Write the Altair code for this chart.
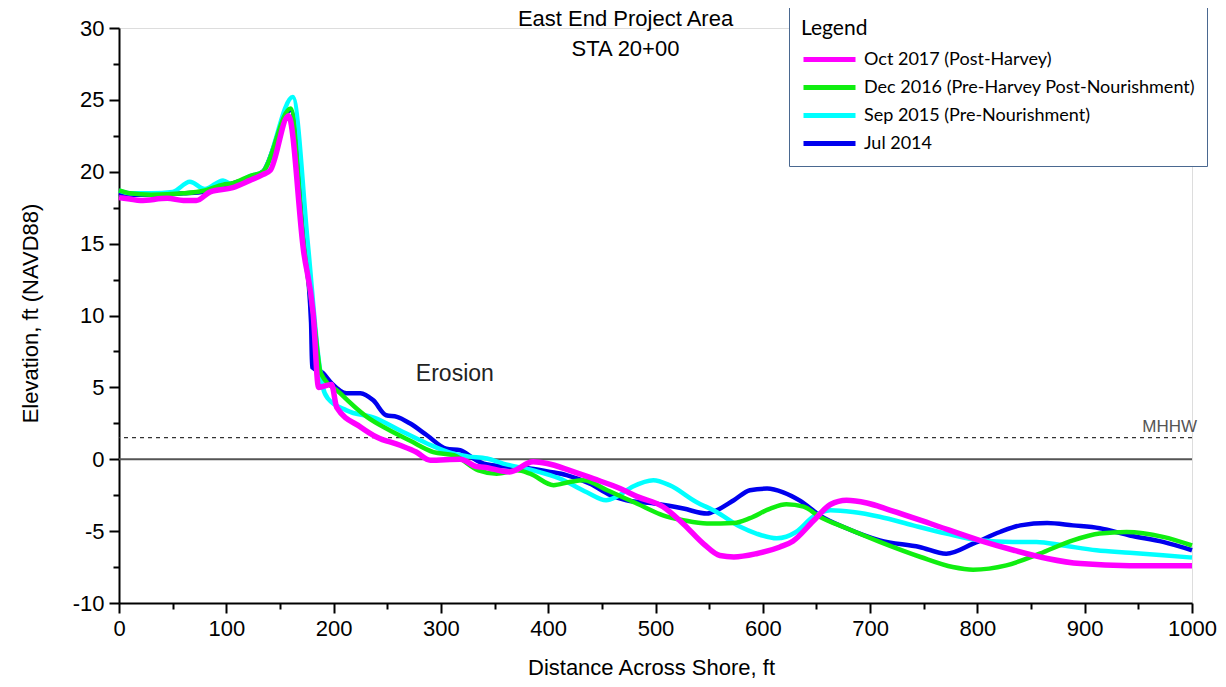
import altair as alt
import pandas as pd

# ---------------- data ----------------
SERIES = [
    "Oct 2017 (Post-Harvey)",
    "Dec 2016 (Pre-Harvey Post-Nourishment)",
    "Sep 2015 (Pre-Nourishment)",
    "Jul 2014",
]
COLORS = ["#ff00ff", "#10ee10", "#00ffff", "#0000ee"]

dist_oct17 = [0, 10, 20, 45, 60, 72, 85, 106, 122, 134, 141, 158, 172, 181, 186, 198, 203, 225, 240, 262,
              277, 290, 318, 333, 340, 364, 386, 399, 420, 442, 467, 483, 507, 526, 545, 560, 573, 594, 616,
              628, 647, 663, 678, 697, 719, 756, 802, 834, 865, 896, 942, 1000]
elev_oct17 = [18.2, 18.1, 18.0, 18.15, 18.0, 18.0, 18.6, 18.9, 19.4, 19.8, 20.1, 23.9, 14.5, 10.1, 5.0, 5.2,
              3.6, 2.25, 1.55, 0.97, 0.5, -0.07, 0.0, -0.5, -0.55, -0.88, -0.18, -0.3, -0.77, -1.35, -2.04,
              -2.6, -3.3, -4.5, -5.9, -6.7, -6.8, -6.57, -6.1, -5.7, -4.3, -3.15, -2.85, -3.04, -3.55, -4.47,
              -5.64, -6.33, -6.9, -7.26, -7.4, -7.4]

dist_dec16 = [0, 10, 30, 60, 80, 97, 106, 122, 134, 160, 172, 182, 188, 206, 231, 250, 271, 293, 312, 335,
              352, 371, 383, 405, 420, 433, 455, 483, 507, 526, 548, 573, 588, 607, 622, 638, 653, 678, 709,
              747, 777, 796, 827, 858, 889, 914, 939, 973, 1000]
elev_dec16 = [18.7, 18.5, 18.4, 18.5, 18.7, 19.1, 19.2, 19.7, 20.0, 24.4, 15.0, 9.5, 6.0, 4.6, 2.95, 2.1,
              1.3, 0.5, 0.28, -0.77, -1.0, -0.77, -1.0, -1.8, -1.58, -1.46, -2.16, -3.1, -3.9, -4.24, -4.47,
              -4.43, -4.1, -3.43, -3.13, -3.3, -4.0, -4.8, -5.75, -6.8, -7.5, -7.68, -7.38, -6.57, -5.64,
              -5.17, -5.06, -5.4, -6.0]

dist_sep15 = [0, 10, 30, 50, 66, 80, 97, 106, 122, 134, 162, 176, 186, 190, 195, 212, 240, 262, 287, 311,
              325, 343, 358, 386, 411, 436, 454, 464, 479, 498, 513, 538, 557, 579, 594, 613, 631, 647, 663,
              684, 709, 740, 771, 802, 833, 855, 880, 911, 942, 973, 1000]
elev_sep15 = [18.7, 18.5, 18.5, 18.6, 19.3, 18.8, 19.4, 19.1, 19.7, 20.0, 25.2, 15.0, 7.0, 5.0, 4.2, 3.4,
              2.83, 2.0, 1.1, 0.4, 0.2, 0.05, -0.3, -0.77, -1.35, -2.3, -2.85, -2.6, -1.9, -1.46, -1.8,
              -2.97, -3.67, -4.7, -5.17, -5.5, -5.06, -4.0, -3.55, -3.67, -4.0, -4.6, -5.17, -5.64, -5.75,
              -5.75, -6.0, -6.33, -6.5, -6.68, -6.84]

dist_jul14 = [0, 10, 30, 60, 80, 97, 122, 134, 160, 172, 179, 180, 190, 198, 212, 225, 237, 249, 259, 271,
              287, 305, 318, 333, 340, 364, 383, 402, 417, 439, 458, 473, 501, 526, 548, 557, 573, 588, 604,
              619, 635, 653, 678, 709, 746, 771, 796, 821, 840, 865, 889, 914, 942, 973, 1000]
elev_jul14 = [18.5, 18.4, 18.4, 18.5, 18.6, 19.0, 19.6, 20.0, 24.3, 15.5, 9.5, 6.4, 6.0, 5.3, 4.6, 4.6,
              4.1, 3.06, 2.95, 2.5, 1.67, 0.74, 0.63, -0.07, -0.3, -0.53, -0.65, -0.88, -1.1, -1.7, -2.5,
              -2.85, -3.1, -3.43, -3.78, -3.55, -2.85, -2.16, -2.04, -2.3, -2.9, -3.9, -4.8, -5.64, -6.1,
              -6.57, -5.87, -5.06, -4.6, -4.43, -4.6, -4.8, -5.3, -5.75, -6.33]

x_major = list(range(0, 1001, 100))
x_minor = list(range(50, 1000, 100))
y_major = list(range(-10, 31, 5))
y_minor = [v + 2.5 for v in range(-10, 30, 5)]

mhhw_level = [1.5]
zero_level = [0]
annot_x = [313]
annot_y = [5.9]
annot_text = ["Erosion"]

# ---------------- tables ----------------
def frame(name, xs, ys):
    return pd.DataFrame({"distance": xs, "elevation": ys, "survey": name})

df_oct17 = frame(SERIES[0], dist_oct17, elev_oct17)
df_dec16 = frame(SERIES[1], dist_dec16, elev_dec16)
df_sep15 = frame(SERIES[2], dist_sep15, elev_sep15)
df_jul14 = frame(SERIES[3], dist_jul14, elev_jul14)

FONT = "Liberation Sans"
LFONT = "Lato"

x_scale = alt.Scale(domain=[0, 1000], nice=False, zero=False)
y_scale = alt.Scale(domain=[-10, 30], nice=False, zero=False)
color_scale = alt.Scale(domain=SERIES, range=COLORS)

legend = alt.Legend(
    orient="none", legendX=670, legendY=-22,
    title="Legend", titleFont=LFONT, titleFontSize=21, titleFontWeight="normal",
    titleColor="black", titlePadding=8,
    labelFont=LFONT, labelFontSize=18, labelColor="black", labelLimit=600,
    symbolType="M-1,0H4.2", symbolSize=400, symbolStrokeWidth=5,
    labelOffset=38, rowPadding=5, padding=12,
    strokeColor="#4a6890", fillColor="white",
)
color_enc = alt.Color("survey:N", scale=color_scale, legend=legend)

LABEL_EXPR = "'' + datum.value"

major_x_axis = alt.Axis(
    orient="bottom", values=x_major, tickSize=10, tickWidth=2, tickColor="black",
    domainColor="black", domainWidth=2, grid=False, labelFlush=False, labelOverlap=False,
    labelExpr=LABEL_EXPR,
    labelFont=FONT, labelFontSize=22, labelColor="black", labelPadding=5,
    title="Distance Across Shore, ft", titleFont=FONT, titleFontSize=22,
    titleFontWeight="normal", titleColor="black", titleX=532, titleY=64,
    titleBaseline="middle", titleAlign="center",
)
major_y_axis = alt.Axis(
    orient="left", values=y_major, tickSize=10, tickWidth=2, tickColor="black",
    domainColor="black", domainWidth=2, grid=False, labelFlush=False, labelOverlap=False,
    labelExpr=LABEL_EXPR,
    labelFont=FONT, labelFontSize=22, labelColor="black", labelPadding=5,
    title="Elevation, ft (NAVD88)", titleFont=FONT, titleFontSize=22,
    titleFontWeight="normal", titleColor="black", titleX=-89, titleY=285,
    titleAngle=-90, titleBaseline="middle", titleAlign="center",
)
minor_x_axis = alt.Axis(orient="bottom", values=x_minor, tickSize=6, tickWidth=2,
                        tickColor="black", domain=False, labels=False, grid=False, title=None)
minor_y_axis = alt.Axis(orient="left", values=y_minor, tickSize=6, tickWidth=2,
                        tickColor="black", domain=False, labels=False, grid=False, title=None)


def series_layer(df, width, axes=False):
    return alt.Chart(df).mark_line(strokeWidth=width, interpolate="monotone").encode(
        x=alt.X("distance:Q", scale=x_scale, axis=major_x_axis if axes else None),
        y=alt.Y("elevation:Q", scale=y_scale, axis=major_y_axis if axes else None),
        color=color_enc,
        order=alt.Order("distance:Q"),
    )

zero_rule = alt.Chart(pd.DataFrame({"level": zero_level})).mark_rule(
    color="#555555", strokeWidth=2
).encode(y=alt.Y("level:Q", scale=y_scale, axis=None))

mhhw_rule = alt.Chart(pd.DataFrame({"level": mhhw_level})).mark_rule(
    color="#333333", strokeWidth=1.2, strokeDash=[4, 4]
).encode(y=alt.Y("level:Q", scale=y_scale, axis=None))

mhhw_label = alt.Chart(pd.DataFrame({"x": [1000], "level": mhhw_level, "t": ["MHHW"]})).mark_text(
    font=FONT, fontSize=17, color="#555555", align="right", baseline="bottom", dx=5, dy=-2
).encode(
    x=alt.X("x:Q", scale=x_scale, axis=minor_x_axis),
    y=alt.Y("level:Q", scale=y_scale, axis=minor_y_axis),
    text="t:N",
)

erosion = alt.Chart(pd.DataFrame({"x": annot_x, "y": annot_y, "t": annot_text})).mark_text(
    font=FONT, fontSize=23, color="#222222", align="center", baseline="middle"
).encode(
    x=alt.X("x:Q", scale=x_scale, axis=None),
    y=alt.Y("y:Q", scale=y_scale, axis=None),
    text="t:N",
)

chart = alt.layer(
    zero_rule,
    mhhw_rule,
    mhhw_label,
    erosion,
    series_layer(df_jul14, 4.5, axes=True),
    series_layer(df_sep15, 4.5),
    series_layer(df_dec16, 4.5),
    series_layer(df_oct17, 5.5),
).resolve_axis(
    x="independent", y="independent"
).properties(
    width=1073, height=575,
    title=alt.TitleParams(
        text=["East End Project Area", "STA 20+00"],
        font=FONT, fontSize=22, fontWeight="normal", color="black",
        anchor="middle", frame="group", dx=-30, dy=59, lineHeight=30,
    ),
    autosize=alt.AutoSizeParams(type="none"),
    padding={"left": 111, "top": 20, "right": 26, "bottom": 76},
).configure_view(
    stroke="transparent"
).configure_legend(
    strokeWidth=3
).configure(background="white")

chart.save("out.html", embed_options={"renderer": "svg", "actions": False})
